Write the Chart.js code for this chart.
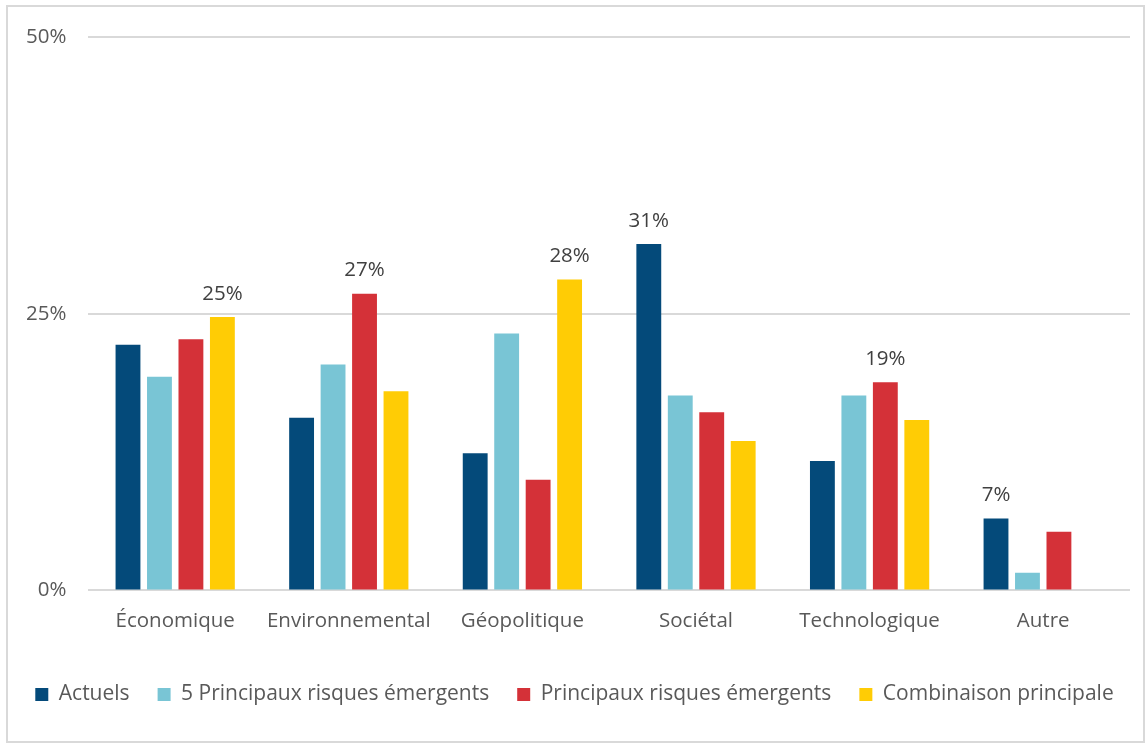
<!DOCTYPE html>
<html>
<head>
<meta charset="utf-8">
<script src="https://cdn.jsdelivr.net/npm/chart.js@4"></script>
<style>
  html, body { margin: 0; padding: 0; background: #fff; }
  .frame { position: absolute; left: 6px; top: 5px; width: 1135px; height: 734px; border: 2px solid #d9d9d9; }
  .wrap { position: absolute; left: 0; top: 0; width: 1145px; height: 744px; }
</style>
</head>
<body>
<div class="frame"></div>
<div class="wrap"><canvas id="myChart"></canvas></div>
<script>
const categories = ["Économique", "Environnemental", "Géopolitique", "Sociétal", "Technologique", "Autre"];
const actuels = [22.2, 15.6, 12.4, 31.3, 11.7, 6.5];
const cinqPrincipaux = [19.3, 20.4, 23.2, 17.6, 17.6, 1.6];
const principaux = [22.7, 26.8, 10.0, 16.1, 18.8, 5.3];
const combinaison = [24.7, 18.0, 28.1, 13.5, 15.4, 0];
const yTicks = [0, 25, 50];

const seriesNames = ["Actuels", "5 Principaux risques émergents", "Principaux risques émergents", "Combinaison principale"];
const colors = ["#044a7a", "#79c5d5", "#d43138", "#ffcc05"];
const seriesData = [actuels, cinqPrincipaux, principaux, combinaison];

const FONT = "'Open Sans', sans-serif";
const SIZE = 20.5;

// show a label only on the tallest bar of each category
const maxLabels = {
    id: 'maxLabels',
    afterDatasetsDraw(chart) {
        const ctx = chart.ctx;
        ctx.save();
        ctx.font = SIZE + "px " + FONT;
        ctx.fillStyle = "#404040";
        ctx.textAlign = "center";
        ctx.textBaseline = "bottom";
        categories.forEach((c, i) => {
            let best = 0;
            seriesData.forEach((s, d) => { if (s[i] > seriesData[best][i]) best = d; });
            const bar = chart.getDatasetMeta(best).data[i];
            ctx.fillText(Math.round(seriesData[best][i]) + "%", bar.x, bar.y - 13);
        });
        ctx.restore();
    }
};

const datasets = seriesNames.map((name, d) => {
    return {
        label: name,
        data: seriesData[d],
        backgroundColor: colors[d],
        borderWidth: 0,
        categoryPercentage: 0.725,
        barPercentage: 0.79,
    }
});

new Chart(document.getElementById('myChart').getContext('2d'), {
    type: 'bar',
    data: { labels: categories, datasets: datasets },
    options: {
        responsive: true,
        maintainAspectRatio: false,
        animation: false,
        layout: { padding: { left: 4, right: 0, top: 37, bottom: 29 } },
        plugins: {
            legend: {
                position: 'bottom',
                labels: {
                    boxWidth: 13, boxHeight: 13, padding: 28,
                    color: "#595959",
                    font: { family: FONT, size: 21 }
                }
            },
            tooltip: { enabled: false }
        },
        scales: {
            x: {
                grid: { display: false },
                border: { display: false },
                afterFit(scale) { scale.height += 13; },
                ticks: { color: "#595959", font: { family: FONT, size: SIZE }, padding: 10 }
            },
            y: {
                min: 0, max: 50,
                afterBuildTicks(axis) { axis.ticks = yTicks.map(v => ({ value: v })); },
                grid: { color: "#d9d9d9", lineWidth: 2, drawTicks: false },
                border: { display: false },
                ticks: { color: "#595959", font: { family: FONT, size: SIZE }, padding: 22, callback: v => v + "%" }
            },
            // empty right margin so the plot ends where the reference does
            yRight: {
                position: 'right',
                grid: { display: false },
                border: { display: false },
                ticks: { display: false },
                afterFit(scale) { scale.width = 15; }
            }
        }
    },
    plugins: [maxLabels]
});
</script>
</body>
</html>
